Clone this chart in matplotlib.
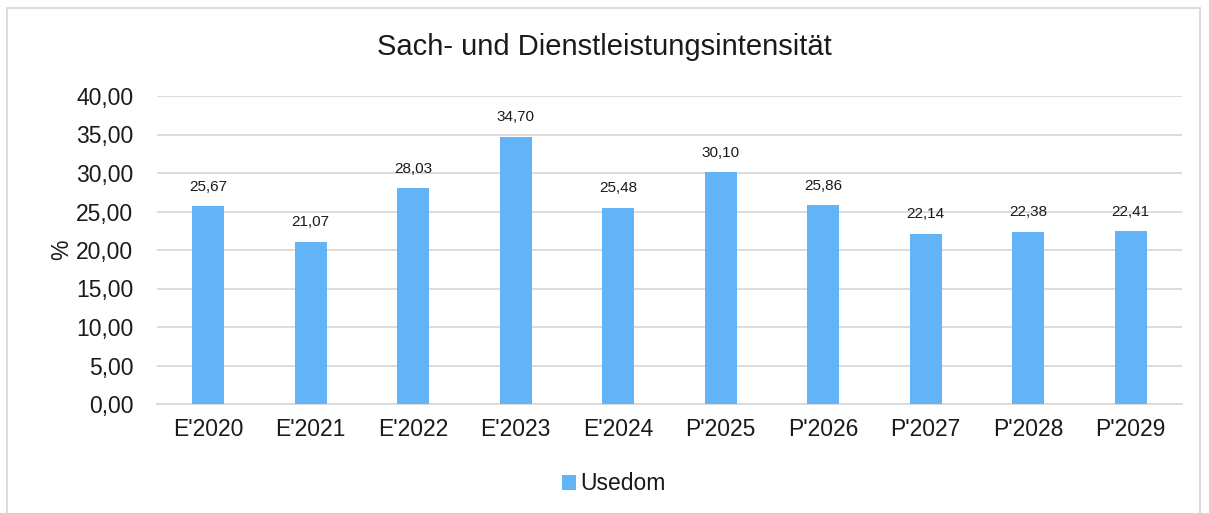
import matplotlib
matplotlib.use("Agg")
import matplotlib.pyplot as plt
from matplotlib.patches import Rectangle

categories = ["E'2020", "E'2021", "E'2022", "E'2023", "E'2024",
              "P'2025", "P'2026", "P'2027", "P'2028", "P'2029"]
values = [25.67, 21.07, 28.03, 34.70, 25.48, 30.10, 25.86, 22.14, 22.38, 22.41]
yticks = [0, 5, 10, 15, 20, 25, 30, 35, 40]
series_name = "Usedom"
title = "Sach- und Dienstleistungsintensität"

plt.rcParams['font.family'] = ['Liberation Sans', 'DejaVu Sans']

W, H = 1209, 513
fig = plt.figure(figsize=(W / 100, H / 100), dpi=100)
ax = fig.add_axes([157 / W, 1 - 404 / H, (1182 - 157) / W, (404 - 96) / H])

color = "#63B4F6"
x = list(range(len(categories)))
bars = ax.bar(x, values, width=0.31, color=color, label=series_name, zorder=3)

for xi, v in zip(x, values):
    ax.text(xi, v + 1.6, f"{v:.2f}".replace(".", ","), ha="center", va="bottom",
            fontsize=11, color="#1a1a1a")

ax.set_xlim(-0.5, len(categories) - 0.5)
ax.set_ylim(0, 40)
ax.set_yticks(yticks)
ax.set_yticklabels([f"{t:.2f}".replace(".", ",") for t in yticks], fontsize=16.5, color="#1a1a1a")
ax.set_xticks(x)
ax.set_xticklabels(categories, fontsize=16.5, color="#1a1a1a")
ax.tick_params(axis="both", length=0)
ax.tick_params(axis="y", pad=17)
ax.tick_params(axis="x", pad=10)
ax.grid(axis="y", color="#d9d9d9", linewidth=1.3, zorder=0)
for s in ["top", "right", "left"]:
    ax.spines[s].set_visible(False)
ax.spines["bottom"].set_color("#d9d9d9")
ax.spines["bottom"].set_linewidth(1.3)

ax.set_ylabel("%", fontsize=16.5, color="#1a1a1a", labelpad=2)

fig.text(0.5, 1 - 47 / H, title, ha="center", va="center", fontsize=21, color="#1a1a1a")

leg = fig.legend(handles=[bars], labels=[series_name], loc="center",
                 bbox_to_anchor=(0.508, 1 - 484 / H), frameon=False, fontsize=16.5,
                 handlelength=0.6, handleheight=0.6, handletextpad=0.2)
for t in leg.get_texts():
    t.set_color("#1a1a1a")

border = Rectangle((7 / W, -0.05), (1200 - 7) / W, 1 - 8 / H + 0.05, transform=fig.transFigure,
                   fill=False, edgecolor="#d9d9d9", linewidth=1.3)
fig.patches.append(border)

fig.savefig("out.png", dpi=100)
